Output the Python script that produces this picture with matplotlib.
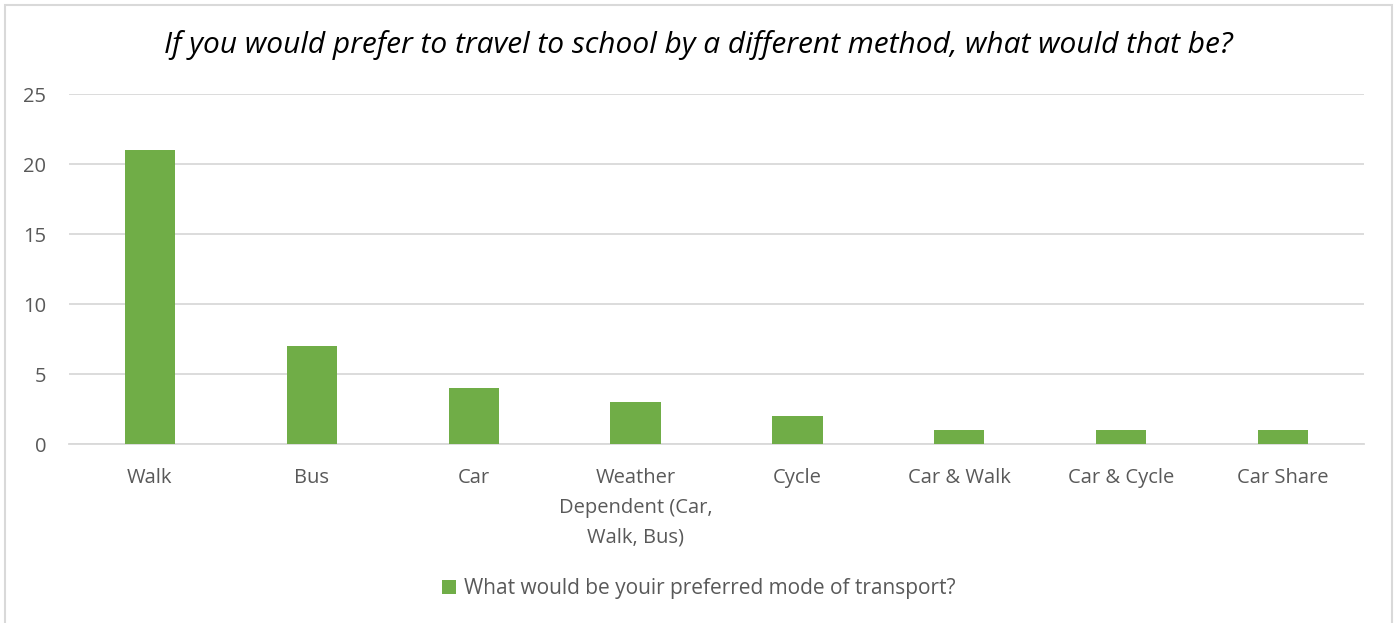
import numpy as np
import matplotlib.pyplot as plt
import matplotlib.patches as patches

# Data
categories = ["Walk", "Bus", "Car", "Weather\nDependent (Car,\nWalk, Bus)",
              "Cycle", "Car & Walk", "Car & Cycle", "Car Share"]
counts = [21, 7, 4, 3, 2, 1, 1, 1]
series_name = "What would be youir preferred mode of transport?"
title = "If you would prefer to travel to school by a different method, what would that be?"

green = "#70ad47"
grid_col = "#d9d9d9"
text_col = "#595959"

plt.rcParams['font.family'] = ['Open Sans', 'DejaVu Sans']

fig = plt.figure(figsize=(13.97, 6.23), dpi=100)
ax = fig.add_axes([69 / 1397, 0.2873, 1295 / 1397, 0.5618])

x = np.arange(len(categories))
ax.bar(x, counts, width=0.31, color=green, zorder=3, label=series_name)

ax.set_xlim(-0.5, len(categories) - 0.5)
ax.set_ylim(0, 25)
ax.set_yticks(range(0, 26, 5))
ax.set_xticks(x)
ax.set_xticklabels(categories, fontsize=14.5, color=text_col, linespacing=1.66, va='top')
ax.tick_params(axis='y', labelsize=14.5, labelcolor=text_col, length=0, pad=16.5)
ax.tick_params(axis='x', length=0, pad=17)

ax.grid(axis='y', color=grid_col, linewidth=1.3, zorder=0)
for s in ['top', 'right', 'left']:
    ax.spines[s].set_visible(False)
ax.spines['bottom'].set_color(grid_col)
ax.spines['bottom'].set_linewidth(1.3)

fig.text(0.5, 0.928, title, ha='center', va='center', fontsize=21.5,
         style='italic', color='black')

leg = fig.legend(loc='center', bbox_to_anchor=(0.5, 0.055), frameon=False,
                 fontsize=15, handlelength=0.7, handleheight=0.7,
                 handletextpad=0.35, labelcolor=text_col)

# outer chart border
fig.add_artist(patches.Rectangle((5 / 1397, -0.05), 1387 / 1397, 1.05 - 5 / 623,
                                 transform=fig.transFigure, fill=False,
                                 edgecolor=grid_col, linewidth=1.5))

fig.savefig("out.png", dpi=100)
